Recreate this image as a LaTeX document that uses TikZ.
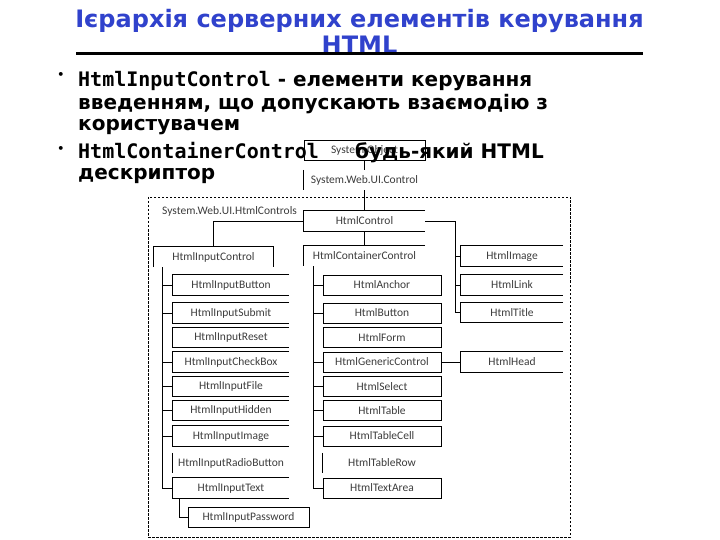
\documentclass[tikz,border=0pt]{standalone}
\usepackage{fontspec}
\setmainfont{DejaVu Sans}
\newfontfamily\dejamono{DejaVu Sans Mono Bold}
\newfontfamily\diagfont{Carlito}
\definecolor{titleblue}{RGB}{48,66,204}
\definecolor{diagtext}{RGB}{60,60,60}
\begin{document}
\begin{tikzpicture}[x=1pt,y=-1pt,
  titletext/.style={font=\fontsize{24}{28}\selectfont\bfseries, text=titleblue, inner sep=0},
  bodytext/.style={font=\fontsize{20}{24}\selectfont\bfseries, inner sep=0, anchor=base west},
  bul/.style={font=\fontsize{11}{13}\selectfont\bfseries, inner sep=0},
  lbox/.style={minimum width=116, minimum height=20, inner sep=0, font=\diagfont\fontsize{11.5}{13}\selectfont, text=diagtext},
  mbox/.style={lbox, minimum width=118},
  rbox/.style={lbox, minimum width=102},
  cbox/.style={lbox, minimum width=121},
  ln/.style={line width=0.8pt, black},
]
\useasboundingbox (0,0) rectangle (720,540);

% ---- title ----
\node[titletext] (t1) at (359.5,21) {Ієрархія серверних елементів керування};
\node[titletext] (t2) at (359.5,45) {HTML};
\coordinate (rl) at (76,54);
\coordinate (rr) at (643,54);
\draw[line width=3pt] (rl) -- (rr);

% ---- diagram (drawn under bullet text) ----
\node[cbox, draw, fill=white, line width=0.8pt] (obj) at (364.5,150) {System.Object};
\node[cbox] (ctl) at (364.5,180) {System.Web.UI.Control};
\draw[ln] (ctl.north west) -- (ctl.south west);
\draw[ln] (obj.south) -- (ctl.north);

% dashed namespace frame
\coordinate (fa) at (148,197);
\coordinate (fb) at (570,537);
\draw[line width=0.6pt, dash pattern=on 2.5pt off 1.5pt] (fa) rectangle (fb);
\node[font=\diagfont\fontsize{11.5}{13}\selectfont, text=diagtext, anchor=west, inner sep=0] (ns) at (162,211) {System.Web.UI.HtmlControls};

% HtmlControl
\node[cbox] (hc) at (364.5,221) {HtmlControl};
\draw[ln] (hc.north east) -- (hc.north west) -- (hc.south west) -- (hc.south east);
\draw[ln] (ctl.south) -- (hc.north);

% HtmlInputControl
\node[lbox, minimum width=119] (hic) at (213.5,257) {HtmlInputControl};
\draw[ln] (hic.south west) -- (hic.north west) -- (hic.north east) -- (hic.south east);
\draw[ln] (hc.west) -| (hic.north);

% HtmlContainerControl
\node[cbox] (hcc) at (364.5,256) {HtmlContainerControl};
\draw[ln] (hcc.north east) -- (hcc.north west) -- (hcc.south west);
\draw[ln] (hc.south) -- (hcc.north);

% ---- left column ----
\foreach \n/\t/\y in {a1/HtmlInputButton/285, a2/HtmlInputSubmit/313, a3/HtmlInputReset/337.5,
  a4/HtmlInputCheckBox/362, a5/HtmlInputFile/386.5, a6/HtmlInputHidden/410.5,
  a7/HtmlInputImage/436, a9/HtmlInputText/488}{
  \node[lbox] (\n) at (231,\y) {\t};
  \draw[ln] (\n.north east) -- (\n.north west) -- (\n.south west) -- (\n.south east);
}
\node[lbox] (a8) at (231,463) {HtmlInputRadioButton};
\draw[ln] (a8.north west) -- (a8.south west);
\coordinate (ls) at (162,267);
\coordinate (le) at (162,488);
\draw[ln] (ls) -- (le) -- (a9.west);
\foreach \n in {a1,a2,a4,a5,a6,a7}{
  \draw[ln] (\n.west) -- (\n.west -| ls);
}
\node[lbox, minimum width=121, draw, line width=0.8pt] (a10) at (248.5,517) {HtmlInputPassword};
\coordinate (ps) at (179,498);
\draw[ln] (ps) |- (a10.west);

% ---- middle column ----
\foreach \n/\t/\y in {b1/HtmlAnchor/285, b2/HtmlButton/313, b3/HtmlForm/337.5,
  b4/HtmlGenericControl/362, b5/HtmlSelect/386.5, b6/HtmlTable/410.5,
  b7/HtmlTableCell/436, b9/HtmlTextArea/488}{
  \node[mbox, draw, line width=0.8pt] (\n) at (382,\y) {\t};
}
\node[mbox] (b8) at (382,463) {HtmlTableRow};
\draw[ln] (b8.north west) -- (b8.south west);
\coordinate (ms) at (313,266);
\coordinate (me) at (313,488);
\draw[ln] (ms) -- (me) -- (b9.west);
\foreach \n in {b1,b2,b4,b5,b6,b7}{
  \draw[ln] (\n.west) -- (\n.west -| ms);
}

% ---- right column ----
\foreach \n/\t/\y in {c1/HtmlImage/256, c2/HtmlLink/285, c3/HtmlTitle/312.5, c4/HtmlHead/362}{
  \node[rbox] (\n) at (512,\y) {\t};
  \draw[ln] (\n.north east) -- (\n.north west) -- (\n.south west) -- (\n.south east);
}
\coordinate (rs) at (455,221);
\draw[ln] (hc.east) -- (rs) -- (rs |- c3.west) -- (c3.west);
\draw[ln] (c1.west) -- (c1.west -| rs);
\draw[ln] (c2.west) -- (c2.west -| rs);
\draw[ln] (b4.east) -- (c4.west);

% ---- bullets ----
\node[bul] (d1) at (61,75) {•};
\node[bodytext] (l1) at (78,87) {{\dejamono HtmlInputControl} - елементи керування};
\node[bodytext] (l2) at (78,110) {введенням, що допускають взаємодію з};
\node[bodytext] (l3) at (78,131) {користувачем};
\node[bul] (d2) at (61,149) {•};
\node[bodytext] (l4) at (78,159) {\dejamono HtmlContainerControl};
\node[bodytext] (l5) at (355,159) {будь-який HTML};
\node[bodytext] (l6) at (78,180) {дескриптор};
\end{tikzpicture}
\end{document}
